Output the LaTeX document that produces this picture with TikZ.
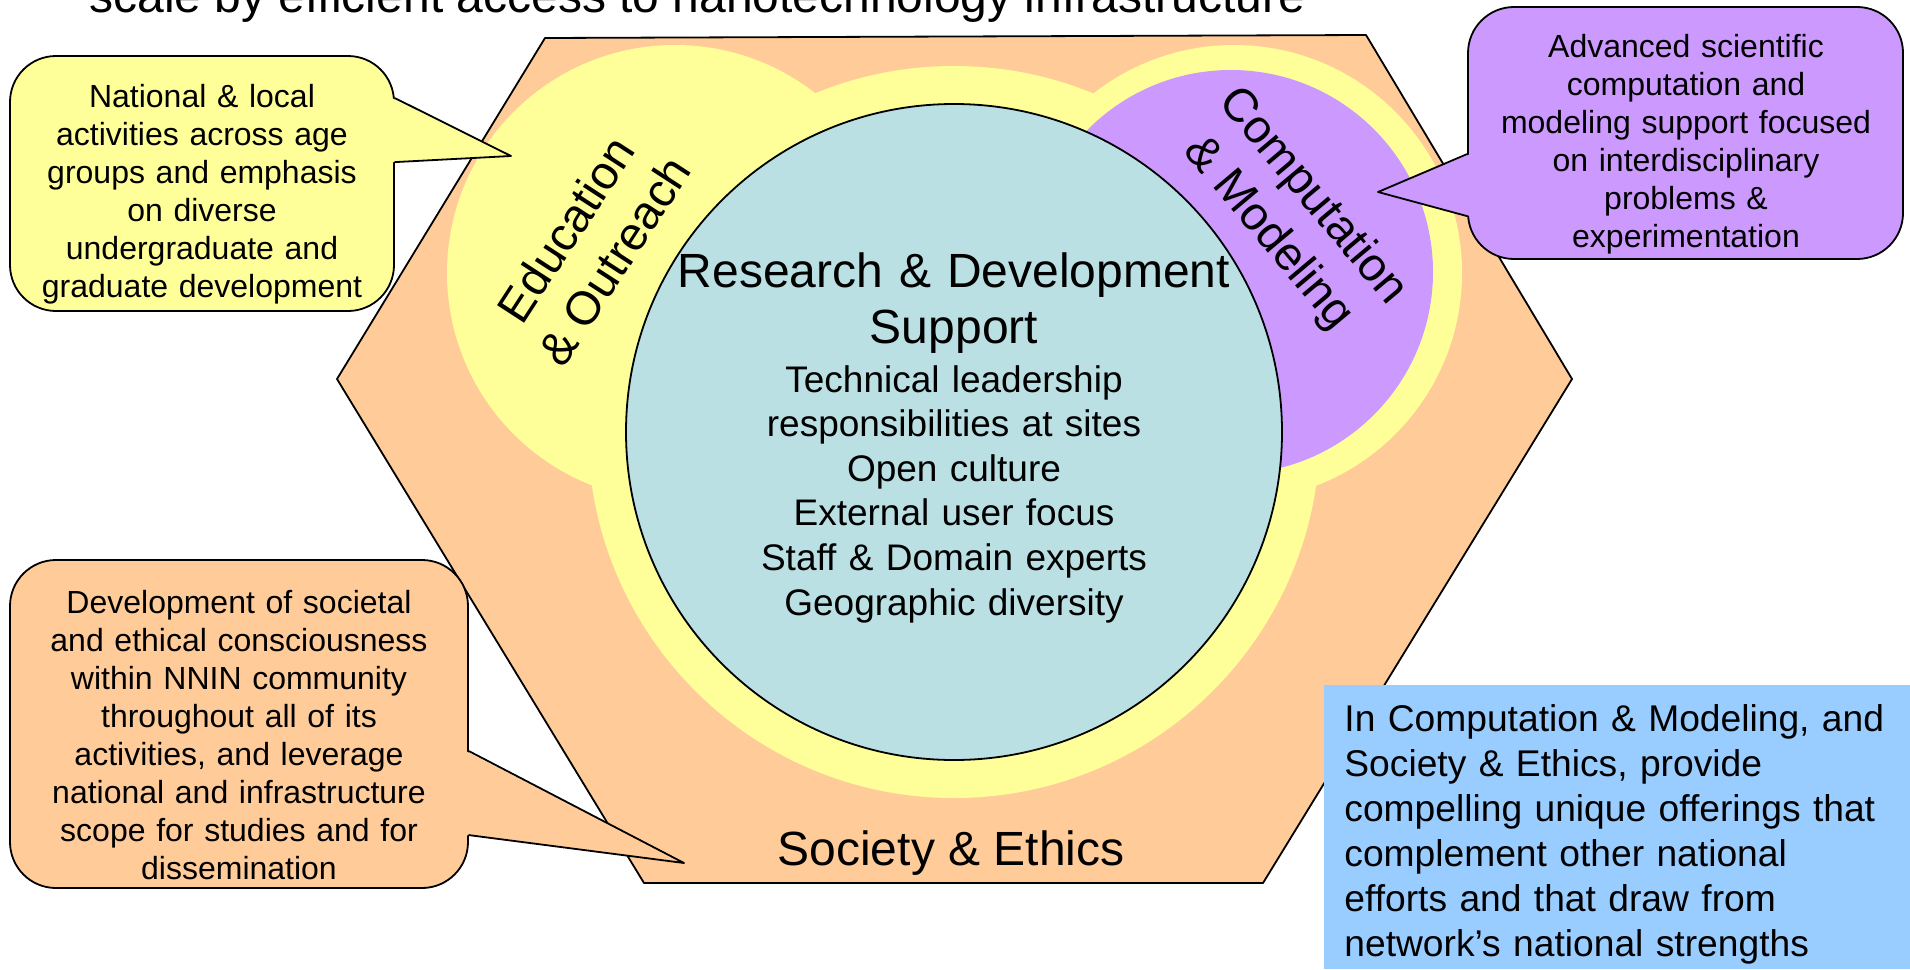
\documentclass[tikz,border=0pt]{standalone}
\usepackage{fontspec}
\setmainfont{Liberation Sans}
\usetikzlibrary{calc}
\definecolor{peach}{RGB}{255,204,153}
\definecolor{lemon}{RGB}{255,255,153}
\definecolor{lilac}{RGB}{204,153,255}
\definecolor{aqua}{RGB}{186,224,227}
\definecolor{sky}{RGB}{153,204,255}
\begin{document}
\begin{tikzpicture}[x=0.5pt,y=-0.5pt,line join=round,line cap=round,
	ve/.style={line width=0.9pt},
	callbox/.style={draw,line width=0.9pt,rounded corners=23pt,inner sep=0pt},
	calltext/.style={align=center,anchor=base,inner sep=0pt,font=\fontsize{16}{19}\selectfont},
	nhan/.style={align=center,inner sep=0pt,font=\fontsize{23.5}{29}\selectfont}]
	\useasboundingbox (0,0) rectangle (1910,969);
	\def\rc{328}%bán kính vòng tròn giữa (px)
	\def\ry{366}%bán kính nền vàng quanh vòng tròn giữa
	\def\rb{228}%bán kính hai vòng vàng hai bên
	\path
	(954,432) coordinate (O)
	(675,273) coordinate (T)%tâm vòng trái
	(1234,273) coordinate (P)%tâm vòng phải
	(1231,272) coordinate (Q)%tâm vòng tím
	%========6 đỉnh lục giác
	(545,38) coordinate (1)
	(1366,35) coordinate (2)
	(1572,379) coordinate (3)
	(1263,883) coordinate (4)
	(644,883) coordinate (5)
	(337,379) coordinate (6)
	;
	\draw[ve,fill=peach] (1)--(2)--(3)--(4)--(5)--(6)--cycle;
	%========nền vàng
	\fill[lemon] (O) circle (\ry) (T) circle (\rb) (P) circle (\rb);
	\fill[lilac] (Q) circle (202);
	\node[circle,draw,ve,fill=aqua,minimum size=\rc pt,inner sep=0pt] (rd) at (O) {};
	%========chữ trong hình
	\node[anchor=base west,inner sep=0pt,font=\fontsize{24}{28}\selectfont] (tieude) at (89,12)
	{scale by efficient access to nanotechnology infrastructure};
	\node[anchor=base,align=center,inner sep=0pt,text width=300pt,font=\fontsize{24}{28}\selectfont] (rdtitle) at (954,287)
	{Research \& Development\\Support};
	\node[anchor=base,align=center,inner sep=0pt,text width=250pt,font=\fontsize{18.5}{22.3}\selectfont] (rdlist) at (954,392)
	{Technical leadership\\responsibilities at sites\\Open culture\\External user focus\\Staff \& Domain experts\\Geographic diversity};
	\node[nhan,rotate=57] (edu) at (590,245) {Education\\\& Outreach};
	\node[nhan,rotate=-50] (comp) at (1290,215) {Computation\\\& Modeling};
	\node[anchor=base,inner sep=0pt,font=\fontsize{24}{28}\selectfont] (soc) at (951,865) {Society \& Ethics};
	%========khung chú thích vàng
	\node[callbox,fill=lemon,minimum width=192pt,minimum height=127.5pt] (edubox) at (202,183.5) {};
	\path
	($(edubox.north east)+(0,43)$) coordinate (eduA)
	($(edubox.north east)+(0,107)$) coordinate (eduB)
	(511,156) coordinate (edutip);
	\fill[lemon] ($(eduA)+(-3,0)$)--(edutip)--($(eduB)+(-3,0)$)--cycle;
	\draw[ve] (eduA)--(edutip)--(eduB);
	\node[calltext,text width=185pt] (edutext) at (202,107)
	{National \& local\\activities across age\\groups and emphasis\\on diverse\\undergraduate and\\graduate development};
	%========khung chú thích tím
	\node[callbox,fill=lilac,minimum width=217.5pt,minimum height=126pt] (compbox) at (1685.5,133) {};
	\path
	($(compbox.north west)+(0,148)$) coordinate (compA)
	($(compbox.north west)+(0,210)$) coordinate (compB)
	(1378,192) coordinate (comptip);
	\fill[lilac] ($(compA)+(3,0)$)--(comptip)--($(compB)+(3,0)$)--cycle;
	\draw[ve] (compA)--(comptip)--(compB);
	\node[calltext,text width=210pt] (comptext) at (1686,57)
	{Advanced scientific\\computation and\\modeling support focused\\on interdisciplinary\\problems \&\\experimentation};
	%========khung chú thích cam
	\node[callbox,fill=peach,minimum width=229pt,minimum height=164pt] (socbox) at (239,724) {};
	\path
	($(socbox.north east)+(0,192)$) coordinate (socA)
	($(socbox.north east)+(0,276)$) coordinate (socB)
	(684,863) coordinate (soctip);
	\fill[peach] ($(socA)+(-3,0)$)--(soctip)--($(socB)+(-3,0)$)--cycle;
	\draw[ve] (socA)--(soctip)--(socB);
	\node[calltext,text width=222pt] (soctext) at (239,613)
	{Development of societal\\and ethical consciousness\\within NNIN community\\throughout all of its\\activities, and leverage\\national and infrastructure\\scope for studies and for\\dissemination};
	%========khung xanh góc dưới
	\node[fill=sky,anchor=north west,minimum width=293pt,minimum height=142pt,inner sep=0pt] (note) at (1324,685) {};
	\node[anchor=base west,align=left,inner sep=0pt,text width=280pt,font=\fontsize{18.6}{22.5}\selectfont] (notetext) at (1344,731)
	{In Computation \& Modeling, and\\Society \& Ethics, provide\\compelling unique offerings that\\complement other national\\efforts and that draw from\\network’s national strengths};
\end{tikzpicture}
\end{document}
